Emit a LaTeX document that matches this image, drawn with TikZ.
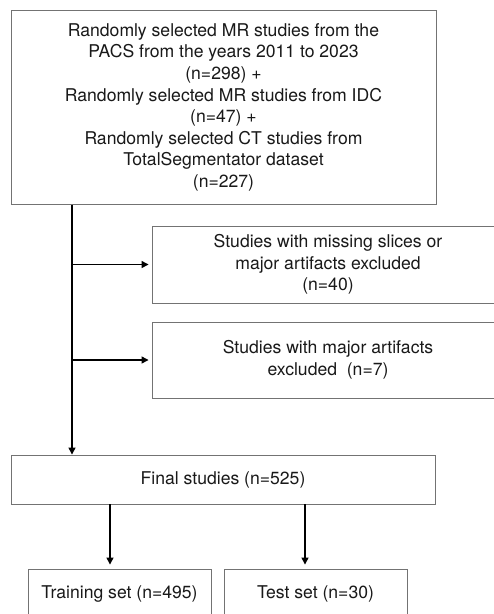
\documentclass[tikz,border=0pt]{standalone}
\usepackage{fontspec}
\setmainfont{TeX Gyre Heros}
\usetikzlibrary{arrows.meta,calc}
\begin{document}
\begin{tikzpicture}[x=1pt,y=-1pt,
  box/.style={draw=black!55,line width=0.9pt,align=center,inner sep=0pt,
    font=\fontsize{17.6}{21.6}\selectfont,text=black!90},
  arr/.style={line width=1.3pt,-{Triangle[length=7pt,width=7pt]}}]
\clip (0,0) rectangle (494,614);
\fill[white] (0,0) rectangle (494,614);
\node[box,minimum width=425pt,minimum height=193.5pt] (top) at (223.5,107.4)
 {Randomly selected MR studies from the\\PACS from the years 2011 to 2023\\(n=298) +\\Randomly selected MR studies from IDC\\(n=47) +\\Randomly selected CT studies from\\TotalSegmentator dataset\\(n=227)};
\node[box,minimum width=352pt,minimum height=77pt] (ex1) at (328,264.5)
 {Studies with missing slices or\\major artifacts excluded\\(n=40)};
\node[box,minimum width=352pt,minimum height=76pt] (ex2) at (328,360)
 {Studies with major artifacts\\excluded~~(n=7)};
\node[box,minimum width=424pt,minimum height=49pt] (final) at (223,479.5)
 {Final studies (n=525)};
\node[box,minimum width=183pt,minimum height=50pt] (train) at (119.5,594)
 {Training set (n=495)};
\node[box,minimum width=183pt,minimum height=50pt] (test) at (315.5,594)
 {Test set (n=30)};
\coordinate (t) at (72,204);
\draw[arr] (top.south -| t) -- (final.north -| t);
\draw[arr,shorten >=3pt] (ex1.west -| t) -- (ex1.west);
\draw[arr,shorten >=3pt] (ex2.west -| t) -- (ex2.west);
\coordinate (a) at (110,504);
\coordinate (b) at (305,504);
\draw[arr,shorten >=4pt] (final.south -| a) -- (train.north -| a);
\draw[arr,shorten >=4pt] (final.south -| b) -- (test.north -| b);
\end{tikzpicture}
\end{document}
